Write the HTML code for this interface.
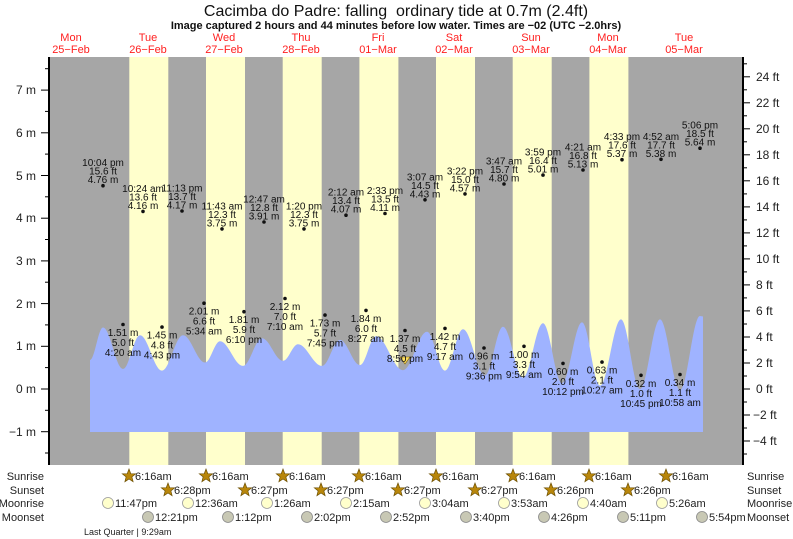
<!DOCTYPE html>
<html><head><meta charset="utf-8"><style>
html,body{margin:0;padding:0;background:#fff;}
svg{display:block;font-family:"Liberation Sans",sans-serif;}
</style></head><body>
<svg width="793" height="539" viewBox="0 0 793 539" xmlns="http://www.w3.org/2000/svg">
<text x="396" y="16" font-size="16" text-anchor="middle" fill="#111">Cacimba do Padre: falling&#160; ordinary tide at 0.7m (2.4ft)</text>
<text x="396" y="29" font-size="11" font-weight="bold" text-anchor="middle" fill="#111">Image captured 2 hours and 44 minutes before low water. Times are −02 (UTC −2.0hrs)</text>
<g font-size="11" fill="#ff2020" text-anchor="middle">
<text x="71" y="41">Mon</text><text x="71" y="53">25−Feb</text>
<text x="148" y="41">Tue</text><text x="148" y="53">26−Feb</text>
<text x="224" y="41">Wed</text><text x="224" y="53">27−Feb</text>
<text x="301" y="41">Thu</text><text x="301" y="53">28−Feb</text>
<text x="378" y="41">Fri</text><text x="378" y="53">01−Mar</text>
<text x="454" y="41">Sat</text><text x="454" y="53">02−Mar</text>
<text x="531" y="41">Sun</text><text x="531" y="53">03−Mar</text>
<text x="608" y="41">Mon</text><text x="608" y="53">04−Mar</text>
<text x="684" y="41">Tue</text><text x="684" y="53">05−Mar</text>
</g>
<rect x="49" y="57" width="694" height="408" fill="#a6a6a6"/>
<g fill="#ffffcc">
<rect x="129.3" y="57" width="39" height="408"/>
<rect x="206" y="57" width="39" height="408"/>
<rect x="282.7" y="57" width="39" height="408"/>
<rect x="359.4" y="57" width="39" height="408"/>
<rect x="436" y="57" width="39" height="408"/>
<rect x="512.7" y="57" width="39" height="408"/>
<rect x="589.4" y="57" width="39" height="408"/>
</g>
<path fill="#9fb3ff" d="M90,360 C94.7,360 98.3,327.5 103,327.5 C110.3,327.5 115.7,368.9 123,368.9 C129.2,368.9 133.8,335.2 140,335.2 C148,335.2 154,370.6 162,370.6 C169.6,370.6 175.4,335.2 183,335.2 C191,335.2 197,362.5 205,362.5 C210.5,362.5 214.5,341.2 220,341.2 C228.4,341.2 234.6,365.9 243,365.9 C249.9,365.9 255.1,338.2 262,338.2 C269.6,338.2 275.4,360.8 283,360.8 C288.5,360.8 292.5,344.2 298,344.2 C306.7,344.2 313.3,365.9 322,365.9 C328.6,365.9 333.4,339.9 340,339.9 C347.3,339.9 352.7,365.1 360,365.1 C365.8,365.1 370.2,336.1 376,336.1 C385.8,336.1 393.2,370.2 403,370.2 C411.7,370.2 418.3,331.8 427,331.8 C433.6,331.8 438.4,370.6 445,370.6 C451.6,370.6 456.4,329.2 463,329.2 C471,329.2 477,375.3 485,375.3 C491.6,375.3 496.4,326.7 503,326.7 C510.3,326.7 515.7,377.5 523,377.5 C530.3,377.5 535.7,323.2 543,323.2 C549.9,323.2 555.1,383 562,383 C569.3,383 574.7,322.4 582,322.4 C588.6,322.4 593.4,385.6 600,385.6 C607.6,385.6 613.4,319.4 621,319.4 C627.9,319.4 633.1,389 640,389 C647.3,389 652.7,319.4 660,319.4 C667.3,319.4 672.7,389.9 680,389.9 C687.3,389.9 692.7,316 700,316 L703,316.5 L703,432 L90,432 Z"/>
<polygon points="400,357 410,357 405,364" fill="#ffe060" stroke="#806000" stroke-width="0.6"/>
<line x1="49" y1="57" x2="49" y2="465" stroke="#000" stroke-width="2"/>
<line x1="743" y1="57" x2="743" y2="465" stroke="#000" stroke-width="2"/>
<g stroke="#000" stroke-width="1">
<line x1="41" y1="90.1" x2="49" y2="90.1"/><line x1="41" y1="132.8" x2="49" y2="132.8"/><line x1="41" y1="175.5" x2="49" y2="175.5"/><line x1="41" y1="218.2" x2="49" y2="218.2"/><line x1="41" y1="260.9" x2="49" y2="260.9"/><line x1="41" y1="303.6" x2="49" y2="303.6"/><line x1="41" y1="346.3" x2="49" y2="346.3"/><line x1="41" y1="389" x2="49" y2="389"/><line x1="41" y1="431.7" x2="49" y2="431.7"/>
<line x1="45" y1="68.7" x2="49" y2="68.7"/><line x1="45" y1="111.4" x2="49" y2="111.4"/><line x1="45" y1="154.1" x2="49" y2="154.1"/><line x1="45" y1="196.8" x2="49" y2="196.8"/><line x1="45" y1="239.5" x2="49" y2="239.5"/><line x1="45" y1="282.2" x2="49" y2="282.2"/><line x1="45" y1="324.9" x2="49" y2="324.9"/><line x1="45" y1="367.6" x2="49" y2="367.6"/><line x1="45" y1="410.3" x2="49" y2="410.3"/><line x1="45" y1="453" x2="49" y2="453"/>
</g>
<g font-size="12" fill="#222" text-anchor="end">
<text x="36" y="94">7 m</text><text x="36" y="137">6 m</text><text x="36" y="180">5 m</text><text x="36" y="222">4 m</text><text x="36" y="265">3 m</text><text x="36" y="308">2 m</text><text x="36" y="350">1 m</text><text x="36" y="393">0 m</text><text x="36" y="436">−1 m</text>
</g>
<g stroke="#000" stroke-width="1">
<line x1="743" y1="76.8" x2="750" y2="76.8"/><line x1="743" y1="102.8" x2="750" y2="102.8"/><line x1="743" y1="128.8" x2="750" y2="128.8"/><line x1="743" y1="154.8" x2="750" y2="154.8"/><line x1="743" y1="180.8" x2="750" y2="180.8"/><line x1="743" y1="206.9" x2="750" y2="206.9"/><line x1="743" y1="232.9" x2="750" y2="232.9"/><line x1="743" y1="258.9" x2="750" y2="258.9"/><line x1="743" y1="284.9" x2="750" y2="284.9"/><line x1="743" y1="310.9" x2="750" y2="310.9"/><line x1="743" y1="337" x2="750" y2="337"/><line x1="743" y1="363" x2="750" y2="363"/><line x1="743" y1="389" x2="750" y2="389"/><line x1="743" y1="415" x2="750" y2="415"/><line x1="743" y1="441" x2="750" y2="441"/>
<line x1="743" y1="63.8" x2="747" y2="63.8"/><line x1="743" y1="89.8" x2="747" y2="89.8"/><line x1="743" y1="115.8" x2="747" y2="115.8"/><line x1="743" y1="141.8" x2="747" y2="141.8"/><line x1="743" y1="167.8" x2="747" y2="167.8"/><line x1="743" y1="193.9" x2="747" y2="193.9"/><line x1="743" y1="219.9" x2="747" y2="219.9"/><line x1="743" y1="245.9" x2="747" y2="245.9"/><line x1="743" y1="271.9" x2="747" y2="271.9"/><line x1="743" y1="297.9" x2="747" y2="297.9"/><line x1="743" y1="324" x2="747" y2="324"/><line x1="743" y1="350" x2="747" y2="350"/><line x1="743" y1="376" x2="747" y2="376"/><line x1="743" y1="402" x2="747" y2="402"/><line x1="743" y1="428" x2="747" y2="428"/><line x1="743" y1="454" x2="747" y2="454"/>
</g>
<g font-size="12" fill="#222">
<text x="756" y="81">24 ft</text><text x="756" y="107">22 ft</text><text x="756" y="133">20 ft</text><text x="756" y="159">18 ft</text><text x="756" y="185">16 ft</text><text x="756" y="211">14 ft</text><text x="756" y="237">12 ft</text><text x="756" y="263">10 ft</text><text x="756" y="289">8 ft</text><text x="756" y="315">6 ft</text><text x="756" y="341">4 ft</text><text x="756" y="367">2 ft</text><text x="756" y="393">0 ft</text><text x="753" y="419">−2 ft</text><text x="753" y="445">−4 ft</text>
</g>
<g font-size="10" fill="#111" text-anchor="middle">
<circle cx="103" cy="185.7" r="1.8"/><text x="103" y="166.2">10:04 pm</text><text x="103" y="174.7">15.6 ft</text><text x="103" y="183.2">4.76 m</text>
<circle cx="143" cy="211.4" r="1.8"/><text x="143" y="191.9">10:24 am</text><text x="143" y="200.4">13.6 ft</text><text x="143" y="208.9">4.16 m</text>
<circle cx="182" cy="211" r="1.8"/><text x="182" y="191.5">11:13 pm</text><text x="182" y="200">13.7 ft</text><text x="182" y="208.5">4.17 m</text>
<circle cx="222" cy="228.9" r="1.8"/><text x="222" y="209.4">11:43 am</text><text x="222" y="217.9">12.3 ft</text><text x="222" y="226.4">3.75 m</text>
<circle cx="264" cy="222" r="1.8"/><text x="264" y="202.5">12:47 am</text><text x="264" y="211">12.8 ft</text><text x="264" y="219.5">3.91 m</text>
<circle cx="304" cy="228.9" r="1.8"/><text x="304" y="209.4">1:20 pm</text><text x="304" y="217.9">12.3 ft</text><text x="304" y="226.4">3.75 m</text>
<circle cx="346" cy="215.2" r="1.8"/><text x="346" y="195.7">2:12 am</text><text x="346" y="204.2">13.4 ft</text><text x="346" y="212.7">4.07 m</text>
<circle cx="385" cy="213.5" r="1.8"/><text x="385" y="194">2:33 pm</text><text x="385" y="202.5">13.5 ft</text><text x="385" y="211">4.11 m</text>
<circle cx="425" cy="199.8" r="1.8"/><text x="425" y="180.3">3:07 am</text><text x="425" y="188.8">14.5 ft</text><text x="425" y="197.3">4.43 m</text>
<circle cx="465" cy="193.9" r="1.8"/><text x="465" y="174.4">3:22 pm</text><text x="465" y="182.9">15.0 ft</text><text x="465" y="191.4">4.57 m</text>
<circle cx="504" cy="184" r="1.8"/><text x="504" y="164.5">3:47 am</text><text x="504" y="173">15.7 ft</text><text x="504" y="181.5">4.80 m</text>
<circle cx="543" cy="175.1" r="1.8"/><text x="543" y="155.6">3:59 pm</text><text x="543" y="164.1">16.4 ft</text><text x="543" y="172.6">5.01 m</text>
<circle cx="583" cy="170" r="1.8"/><text x="583" y="150.5">4:21 am</text><text x="583" y="159">16.8 ft</text><text x="583" y="167.5">5.13 m</text>
<circle cx="622" cy="159.7" r="1.8"/><text x="622" y="140.2">4:33 pm</text><text x="622" y="148.7">17.6 ft</text><text x="622" y="157.2">5.37 m</text>
<circle cx="661" cy="159.3" r="1.8"/><text x="661" y="139.8">4:52 am</text><text x="661" y="148.3">17.7 ft</text><text x="661" y="156.8">5.38 m</text>
<circle cx="700" cy="148.2" r="1.8"/><text x="700" y="128.7">5:06 pm</text><text x="700" y="137.2">18.5 ft</text><text x="700" y="145.7">5.64 m</text>
</g>
<g font-size="10" fill="#111" text-anchor="middle">
<circle cx="123" cy="324.5" r="1.8"/><text x="123" y="336">1.51 m</text><text x="123" y="346">5.0 ft</text><text x="123" y="356">4:20 am</text>
<circle cx="162" cy="327.1" r="1.8"/><text x="162" y="338.6">1.45 m</text><text x="162" y="348.6">4.8 ft</text><text x="162" y="358.6">4:43 pm</text>
<circle cx="204" cy="303.2" r="1.8"/><text x="204" y="314.7">2.01 m</text><text x="204" y="324.7">6.6 ft</text><text x="204" y="334.7">5:34 am</text>
<circle cx="244" cy="311.7" r="1.8"/><text x="244" y="323.2">1.81 m</text><text x="244" y="333.2">5.9 ft</text><text x="244" y="343.2">6:10 pm</text>
<circle cx="285" cy="298.5" r="1.8"/><text x="285" y="310">2.12 m</text><text x="285" y="320">7.0 ft</text><text x="285" y="330">7:10 am</text>
<circle cx="325" cy="315.1" r="1.8"/><text x="325" y="326.6">1.73 m</text><text x="325" y="336.6">5.7 ft</text><text x="325" y="346.6">7:45 pm</text>
<circle cx="366" cy="310.4" r="1.8"/><text x="366" y="321.9">1.84 m</text><text x="366" y="331.9">6.0 ft</text><text x="366" y="341.9">8:27 am</text>
<circle cx="405" cy="330.5" r="1.8"/><text x="405" y="342">1.37 m</text><text x="405" y="352">4.5 ft</text><text x="405" y="362">8:50 pm</text>
<circle cx="445" cy="328.4" r="1.8"/><text x="445" y="339.9">1.42 m</text><text x="445" y="349.9">4.7 ft</text><text x="445" y="359.9">9:17 am</text>
<circle cx="484" cy="348" r="1.8"/><text x="484" y="359.5">0.96 m</text><text x="484" y="369.5">3.1 ft</text><text x="484" y="379.5">9:36 pm</text>
<circle cx="524" cy="346.3" r="1.8"/><text x="524" y="357.8">1.00 m</text><text x="524" y="367.8">3.3 ft</text><text x="524" y="377.8">9:54 am</text>
<circle cx="563" cy="363.4" r="1.8"/><text x="563" y="374.9">0.60 m</text><text x="563" y="384.9">2.0 ft</text><text x="563" y="394.9">10:12 pm</text>
<circle cx="602" cy="362.1" r="1.8"/><text x="602" y="373.6">0.63 m</text><text x="602" y="383.6">2.1 ft</text><text x="602" y="393.6">10:27 am</text>
<circle cx="641" cy="375.3" r="1.8"/><text x="641" y="386.8">0.32 m</text><text x="641" y="396.8">1.0 ft</text><text x="641" y="406.8">10:45 pm</text>
<circle cx="680" cy="374.5" r="1.8"/><text x="680" y="386">0.34 m</text><text x="680" y="396">1.1 ft</text><text x="680" y="406">10:58 am</text>
</g>
<defs>
<polygon id="st" points="0,-7 1.8,-2.3 6.7,-2.2 2.9,0.9 4.1,5.7 0,3 -4.1,5.7 -2.9,0.9 -6.7,-2.2 -1.8,-2.3" fill="#b8860b" stroke="#6b4e00" stroke-width="0.7"/>
</defs>
<g font-size="11" fill="#222">
<text x="44" y="480" text-anchor="end">Sunrise</text>
<text x="44" y="494" text-anchor="end">Sunset</text>
<text x="44" y="507" text-anchor="end">Moonrise</text>
<text x="44" y="521" text-anchor="end">Moonset</text>
<text x="747" y="480">Sunrise</text>
<text x="747" y="494">Sunset</text>
<text x="747" y="507">Moonrise</text>
<text x="747" y="521">Moonset</text>
<use href="#st" x="129" y="476"/><text x="135" y="480">6:16am</text>
<use href="#st" x="206" y="476"/><text x="212" y="480">6:16am</text>
<use href="#st" x="283" y="476"/><text x="289" y="480">6:16am</text>
<use href="#st" x="359" y="476"/><text x="365" y="480">6:16am</text>
<use href="#st" x="436" y="476"/><text x="442" y="480">6:16am</text>
<use href="#st" x="513" y="476"/><text x="519" y="480">6:16am</text>
<use href="#st" x="589" y="476"/><text x="595" y="480">6:16am</text>
<use href="#st" x="666" y="476"/><text x="672" y="480">6:16am</text>
<use href="#st" x="168" y="490"/><text x="174" y="494">6:28pm</text>
<use href="#st" x="245" y="490"/><text x="251" y="494">6:27pm</text>
<use href="#st" x="321" y="490"/><text x="327" y="494">6:27pm</text>
<use href="#st" x="398" y="490"/><text x="404" y="494">6:27pm</text>
<use href="#st" x="475" y="490"/><text x="481" y="494">6:27pm</text>
<use href="#st" x="551" y="490"/><text x="557" y="494">6:26pm</text>
<use href="#st" x="628" y="490"/><text x="634" y="494">6:26pm</text>
</g>
<g font-size="11" fill="#222">
<g fill="#ffffcc" stroke="#999" stroke-width="0.8">
<circle cx="108" cy="503" r="5.5"/><circle cx="188" cy="503" r="5.5"/><circle cx="267" cy="503" r="5.5"/><circle cx="346" cy="503" r="5.5"/><circle cx="425" cy="503" r="5.5"/><circle cx="504" cy="503" r="5.5"/><circle cx="583" cy="503" r="5.5"/><circle cx="662" cy="503" r="5.5"/>
</g>
<text x="115" y="507">11:47pm</text><text x="195" y="507">12:36am</text><text x="274" y="507">1:26am</text><text x="353" y="507">2:15am</text><text x="432" y="507">3:04am</text><text x="511" y="507">3:53am</text><text x="590" y="507">4:40am</text><text x="669" y="507">5:26am</text>
<g fill="#c8c8b4" stroke="#888" stroke-width="0.8">
<circle cx="148" cy="517" r="5.5"/><circle cx="228" cy="517" r="5.5"/><circle cx="307" cy="517" r="5.5"/><circle cx="386" cy="517" r="5.5"/><circle cx="466" cy="517" r="5.5"/><circle cx="544" cy="517" r="5.5"/><circle cx="623" cy="517" r="5.5"/><circle cx="702" cy="517" r="5.5"/>
</g>
<text x="155" y="521">12:21pm</text><text x="235" y="521">1:12pm</text><text x="314" y="521">2:02pm</text><text x="393" y="521">2:52pm</text><text x="473" y="521">3:40pm</text><text x="551" y="521">4:26pm</text><text x="630" y="521">5:11pm</text><text x="709" y="521">5:54pm</text>
<text x="84" y="535" font-size="9">Last Quarter | 9:29am</text>
</g>
</svg>
</body></html>
